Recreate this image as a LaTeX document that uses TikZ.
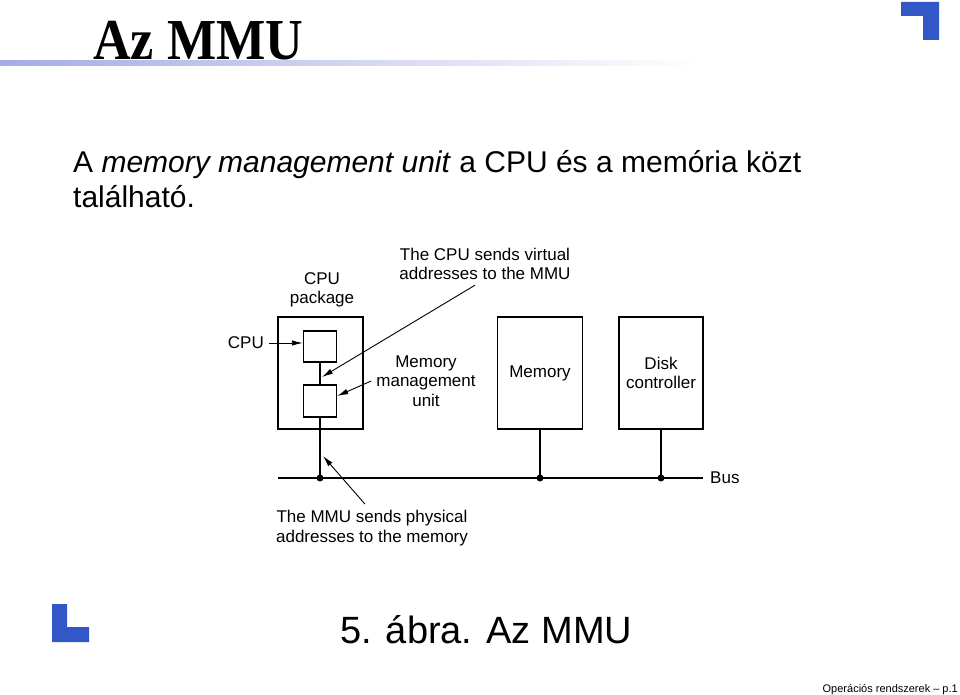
\documentclass[tikz,border=0pt]{standalone}
\usepackage{fontspec}
\setmainfont{Liberation Sans}
\newfontfamily\titlefont{Liberation Serif}
\usetikzlibrary{positioning, arrows.meta}

\definecolor{slideblue}{RGB}{50,88,200}
\definecolor{ruleblue}{RGB}{165,172,228}

\tikzset{
    unit/.style={draw, line width=1.4pt, inner sep=0pt},
    lbl/.style={align=center, inner sep=1pt, font=\fontsize{17}{19.5}\selectfont},
    body/.style={anchor=base west, inner sep=0pt, font=\fontsize{30}{35}\selectfont},
    ptr/.style={line width=0.9pt, -{Latex[length=11pt, width=5.5pt]}},
    wire/.style={line width=1.5pt},
    tap/.style={circle, fill, inner sep=0pt, minimum size=7pt}
}

\begin{document}
\begin{tikzpicture}[x=1pt, y=-1pt]

    \useasboundingbox (0,0) rectangle (960,695);

    % slide frame
    \node[anchor=base west, inner sep=0pt, xscale=0.9,
        font=\titlefont\bfseries\fontsize{58}{58}\selectfont] (title) at (93,60) {Az MMU};
    \shade[left color=ruleblue, right color=white] (0,61) rectangle (700,66);
    \fill[slideblue] (901,2) -- (939,2) -- (939,40) -- (923,40) -- (923,16) -- (901,16) -- cycle;
    \fill[slideblue] (52,604) -- (67,604) -- (67,627) -- (89,627) -- (89,642) -- (52,642) -- cycle;

    \node[body] (intro) at (73,172) {A \textit{memory management unit} a CPU és a memória közt};
    \node[body] (intro2) at ([yshift=-35pt]intro.base west) {található.};

    % the boxes
    \node[unit, minimum width=85pt, minimum height=112pt] (pkg) at (320.5,373) {};
    \node[unit, minimum width=33pt, minimum height=31pt]  (cpu) at (320,346.5) {};
    \node[unit, minimum width=33pt, minimum height=32pt]  (mmu) at (320,401) {};
    \node[unit, lbl, minimum width=85pt, minimum height=112pt] (mem)  at (540,373) {Memory};
    \node[unit, lbl, minimum width=84pt, minimum height=112pt] (disk) at (661,373) {Disk\\controller};

    % bus
    \coordinate (busL) at (278,478);
    \coordinate (busR) at (703,478);
    \draw[wire] (busL) -- (busR);
    \node[lbl, anchor=west] (bus) at (709,478) {Bus};

    \node[tap] (tapmmu)  at (mmu.south |- busL) {};
    \node[tap] (tapmem)  at (mem.south |- busL) {};
    \node[tap] (tapdisk) at (disk.south |- busL) {};

    \draw[wire] (cpu) edge (mmu)
        (mmu)  edge (tapmmu.center)
        (mem)  edge (tapmem.center)
        (disk) edge (tapdisk.center);

    % labels
    \node[lbl, anchor=east] (cpulbl) at (265,343) {CPU};
    \node[lbl] (pkglbl) at (322,290) {CPU\\package};
    \node[lbl] (virt)   at (485,264) {The CPU sends virtual\\addresses to the MMU};
    \node[lbl] (mmulbl) at (426,381) {Memory\\management\\unit};
    \node[lbl] (phys)   at (372,528) {The MMU sends physical\\addresses to the memory};

    \coordinate (virttip) at (322,377);
    \coordinate (phystip) at (323,456);

    \draw[ptr] ([xshift=4pt]cpulbl.east) -- (cpulbl.east -| cpu.west);
    \draw[ptr] ([xshift=-10pt, yshift=-4pt]virt.south) -- (virttip);
    \draw[ptr] ([xshift=-4pt]mmulbl.west) -- ([yshift=5pt]mmu.east);
    \draw[ptr] ([xshift=-7pt, yshift=5pt]phys.north) -- (phystip);

    \node[anchor=base west, inner sep=0pt, font=\fontsize{38}{38}\selectfont] (caption) at (340,643) {5. ábra. Az MMU};
    \node[anchor=base east, inner sep=0pt, font=\fontsize{11}{11}\selectfont] (foot) at (958,692) {Operációs rendszerek -- p.1};

\end{tikzpicture}
\end{document}
